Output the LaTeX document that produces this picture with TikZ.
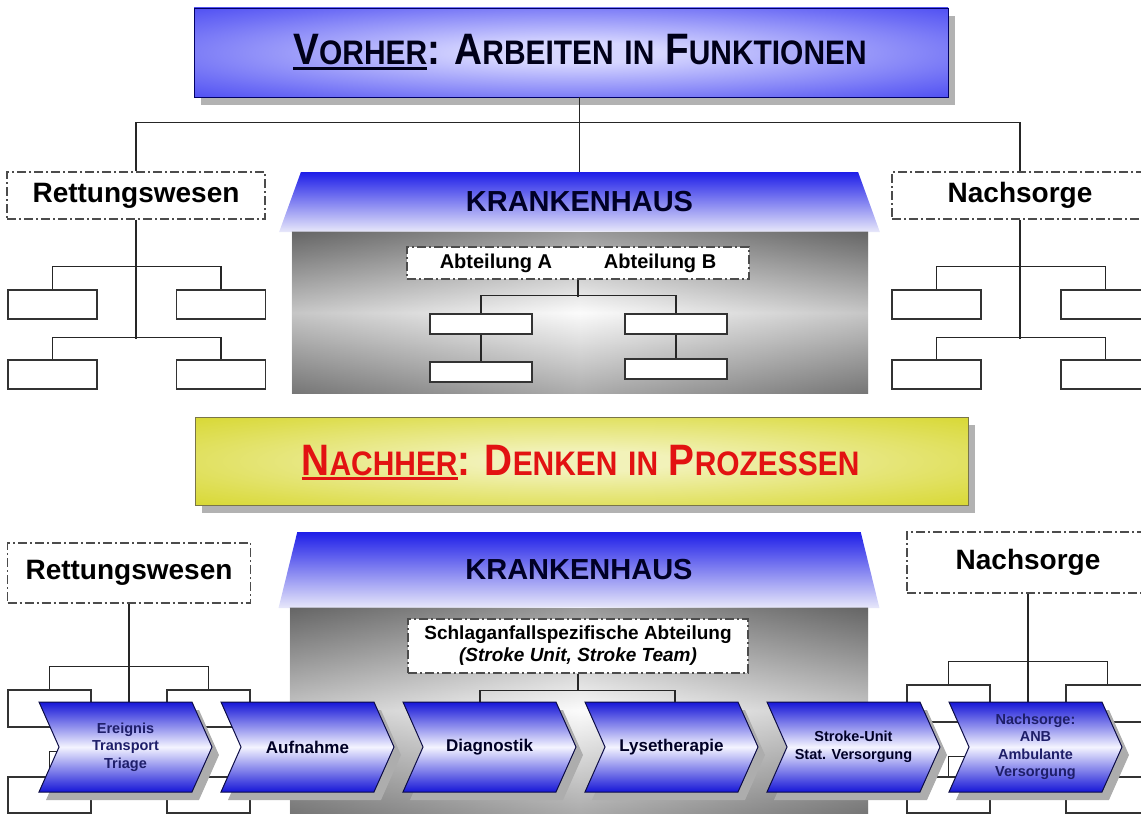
\documentclass[tikz,border=0pt]{standalone}
\usepackage{fontspec}
\setmainfont{Liberation Sans}
\usetikzlibrary{positioning,shapes.geometric,shapes.symbols,shadows}

\definecolor{bannerblue}{RGB}{28,28,238}
\definecolor{bannerlight}{RGB}{214,214,255}
\definecolor{banneryellow}{RGB}{206,206,0}
\definecolor{yellowlight}{RGB}{242,242,185}
\definecolor{titlered}{RGB}{226,18,18}
\definecolor{roofblue}{RGB}{30,30,232}
\definecolor{rooflight}{RGB}{232,232,250}
\definecolor{chevblue}{RGB}{22,22,215}
\definecolor{chevlight}{RGB}{244,244,255}
\definecolor{chevline}{RGB}{12,12,70}
\definecolor{navytext}{RGB}{30,30,105}

\pgfdeclareradialshading{bluebanner}{\pgfpoint{0bp}{0bp}}{color(0bp)=(bannerlight); color(6bp)=(bannerlight); color(28bp)=(bannerblue!55!bannerlight); color(48bp)=(bannerblue); color(50bp)=(bannerblue)}
\pgfdeclareradialshading{yellowbanner}{\pgfpoint{0bp}{0bp}}{color(0bp)=(yellowlight); color(6bp)=(yellowlight); color(28bp)=(banneryellow!55!yellowlight); color(48bp)=(banneryellow); color(50bp)=(banneryellow)}

\newcommand{\fsz}[2]{\fontsize{#1}{#2}\selectfont}
\newcommand{\capsm}[1]{{\fsz{34}{34}#1}}
\newcommand{\thickul}[1]{\vtop{\hbox{#1}\kern2pt\hrule height 2.6pt}}

\begin{document}
\begin{tikzpicture}[x=1pt, y=-1pt,
    banner/.style={draw=#1, line width=0.8pt, shade, inner sep=0pt, drop shadow={shadow xshift=7pt, shadow yshift=-8pt, fill=black!30, opacity=1}},
    title/.style={anchor=base, inner sep=0pt, font=\bfseries\fsz{44}{48}},
    headbox/.style={rectangle, draw=black!70, fill=white, line width=1.4pt, dash pattern=on 9pt off 3pt on 2pt off 3pt, inner sep=0pt, font=\bfseries\fsz{28}{32}},
    deptbox/.style={headbox, font=\bfseries\fsz{19}{22}, align=center},
    leaf/.style={rectangle, draw=black!80, fill=white, line width=1.5pt, inner sep=0pt},
    tie/.style={line width=1.5pt, draw=black!85},
    roof/.style={trapezium, trapezium stretches=true, inner sep=0pt, top color=roofblue, bottom color=rooflight, text=black!85!blue, font=\bfseries\fsz{29}{32}},
    house/.style={rectangle, inner sep=0pt, top color=black!60, bottom color=black!50, middle color=black!2},
    sides/.style={left color=black!60, right color=black!60, middle color=white, opacity=0.35},
    chev/.style={signal, signal to=east, signal from=west, signal pointer angle=132, minimum width=173pt, minimum height=90pt, inner sep=0pt, draw=chevline, line width=1pt, top color=chevblue, bottom color=chevblue, middle color=chevlight, align=center, text=black!85!blue, font=\bfseries\fsz{14.5}{17.5}, drop shadow={shadow xshift=7pt, shadow yshift=-8pt, fill=black!32, opacity=1}}
]
    \useasboundingbox (0,0) rectangle (1141,816);
    \clip (0,0) rectangle (1141,816);

    % Vorher
    \node[banner=blue!40!black, shading=bluebanner, minimum width=754pt, minimum height=89pt] (vorher) at (571,52.5) {};
    \node[title, text=black!90!blue] (vorhertxt) at (580,65) {\scalebox{0.88}[1]{\thickul{V\capsm{ORHER}}: A\capsm{RBEITEN} \capsm{IN} F\capsm{UNKTIONEN}}};

    \node[headbox, minimum width=258pt, minimum height=47pt] (rwTop) at (136,195.5) {Rettungswesen};
    \node[headbox, minimum width=256pt, minimum height=47pt] (nsTop) at (1020,195.5) {Nachsorge};

    \node[roof, minimum width=602pt, minimum height=60pt, trapezium angle=66.6] (roofTop) at (579.5,202) {KRANKENHAUS};
    \node[house, minimum width=576pt, minimum height=161pt] (houseTop) at (580,312.5) {};
    \shade[sides] (houseTop.south west) rectangle (houseTop.north east);
    \node[deptbox, font=\bfseries\fsz{20}{24}, minimum width=342pt, minimum height=32pt] (abtTop) at (578,263) {Abteilung A\hspace{52pt}Abteilung B};

    % leaves
    \node[leaf, minimum width=89pt, minimum height=29pt] (rwA) at (52.5,304.5) {};
    \node[leaf, minimum width=89pt, minimum height=29pt] (rwB) at (221,304.5) {};
    \node[leaf, minimum width=89pt, minimum height=29pt] (rwC) at (52.5,374.5) {};
    \node[leaf, minimum width=89pt, minimum height=29pt] (rwD) at (221,374.5) {};
    \node[leaf, minimum width=89pt, minimum height=29pt] (nsA) at (936.5,304.5) {};
    \node[leaf, minimum width=89pt, minimum height=29pt] (nsB) at (1105.5,304.5) {};
    \node[leaf, minimum width=89pt, minimum height=29pt] (nsC) at (936.5,374.5) {};
    \node[leaf, minimum width=89pt, minimum height=29pt] (nsD) at (1105.5,374.5) {};
    \node[leaf, minimum width=102pt, minimum height=20pt] (abA) at (481,324) {};
    \node[leaf, minimum width=102pt, minimum height=20pt] (abB) at (676,324) {};
    \node[leaf, minimum width=102pt, minimum height=20pt] (abC) at (481,372) {};
    \node[leaf, minimum width=102pt, minimum height=20pt] (abD) at (676,369) {};

    \draw[tie] (rwTop.north) -- ++(0,-49) -| (nsTop.north);
    \draw[tie] (vorher.south -| roofTop.north) -- (roofTop.north);
    \draw[tie] (rwTop.south) -- ++(0,119);
    \draw[tie] (rwA.north) -- ++(0,-23) -| (rwB.north);
    \draw[tie] (rwC.north) -- ++(0,-22) -| (rwD.north);
    \draw[tie] (nsTop.south) -- ++(0,119);
    \draw[tie] (nsA.north) -- ++(0,-23) -| (nsB.north);
    \draw[tie] (nsC.north) -- ++(0,-22) -| (nsD.north);
    \draw[tie] (abtTop.south) -- ++(0,17);
    \draw[tie] (abA.north) -- ++(0,-18) -| (abB.north);
    \draw[tie] (abA) -- (abC);
    \draw[tie] (abB) -- (abD);

    % Nachher
    \node[banner=black!60!yellow, shading=yellowbanner, minimum width=773pt, minimum height=88pt] (nachher) at (581.5,461) {};
    \node[title, text=titlered] (nachhertxt) at (580.5,475) {\scalebox{0.88}[1]{\thickul{N\capsm{ACHHER}}: D\capsm{ENKEN} \capsm{IN} P\capsm{ROZESSEN}}};

    \node[headbox, minimum width=243pt, minimum height=60pt] (rwBot) at (129,573) {Rettungswesen};
    \node[headbox, minimum width=242pt, minimum height=61pt] (nsBot) at (1028,562.5) {Nachsorge};

    \node[roof, minimum width=602pt, minimum height=76pt, trapezium angle=69.8] (roofBot) at (579,570) {KRANKENHAUS};
    \node[house, minimum width=578pt, minimum height=205pt] (houseBot) at (579,710.5) {};
    \shade[sides] (houseBot.south west) rectangle (houseBot.north east);
    \node[deptbox, minimum width=340pt, minimum height=54pt] (sbox) at (578,646) {Schlaganfallspezifische Abteilung\\\textit{(Stroke Unit, Stroke Team)}};

    % leaves behind the process chain
    \node[leaf, minimum width=83pt, minimum height=37pt] (rbA) at (49.5,708.5) {};
    \node[leaf, minimum width=83pt, minimum height=37pt] (rbB) at (208.5,708.5) {};
    \node[leaf, minimum width=83pt, minimum height=36pt] (rbC) at (49.5,795) {};
    \node[leaf, minimum width=83pt, minimum height=36pt] (rbD) at (208.5,795) {};
    \node[leaf, minimum width=83pt, minimum height=37pt] (nbA) at (948.5,703.5) {};
    \node[leaf, minimum width=83pt, minimum height=37pt] (nbB) at (1107.5,703.5) {};
    \node[leaf, minimum width=83pt, minimum height=36pt] (nbC) at (948.5,795) {};
    \node[leaf, minimum width=83pt, minimum height=36pt] (nbD) at (1107.5,795) {};

    \draw[tie] (rwBot.south) -- ++(0,149);
    \draw[tie] (rbA.north) -- ++(0,-23) -| (rbB.north);
    \draw[tie] (rbC.north) -- ++(0,-25) -| (rbD.north);
    \draw[tie] (nsBot.south) -- ++(0,164);
    \draw[tie] (nbA.north) -- ++(0,-23) -| (nbB.north);
    \draw[tie] (nbC.north) -- ++(0,-20) -| (nbD.north);

    % process chain
    \node[chev, text=navytext] (chev1) at (125.5,747) {Ereignis\\Transport\\Triage};
    \node[chev, font=\bfseries\fsz{17}{20}] (chev2) at (307.5,747) {Aufnahme};
    \node[chev, font=\bfseries\fsz{17}{20}] (chev3) at (489.5,747) {Diagnostik};
    \node[chev, font=\bfseries\fsz{17}{20}] (chev4) at (671.5,747) {Lysetherapie};
    \node[chev] (chev5) at (853.5,747) {Stroke-Unit\\Stat. Versorgung};
    \node[chev, text=navytext] (chev6) at (1035.5,747) {Nachsorge:\\ANB\\Ambulante\\Versorgung};

    \draw[tie] (sbox.south) -- ++(0,17) -| ([xshift=-9.5pt]chev3.north);
    \draw[tie] (sbox.south) ++(0,17) -| ([xshift=3.5pt]chev4.north);

\end{tikzpicture}
\end{document}
